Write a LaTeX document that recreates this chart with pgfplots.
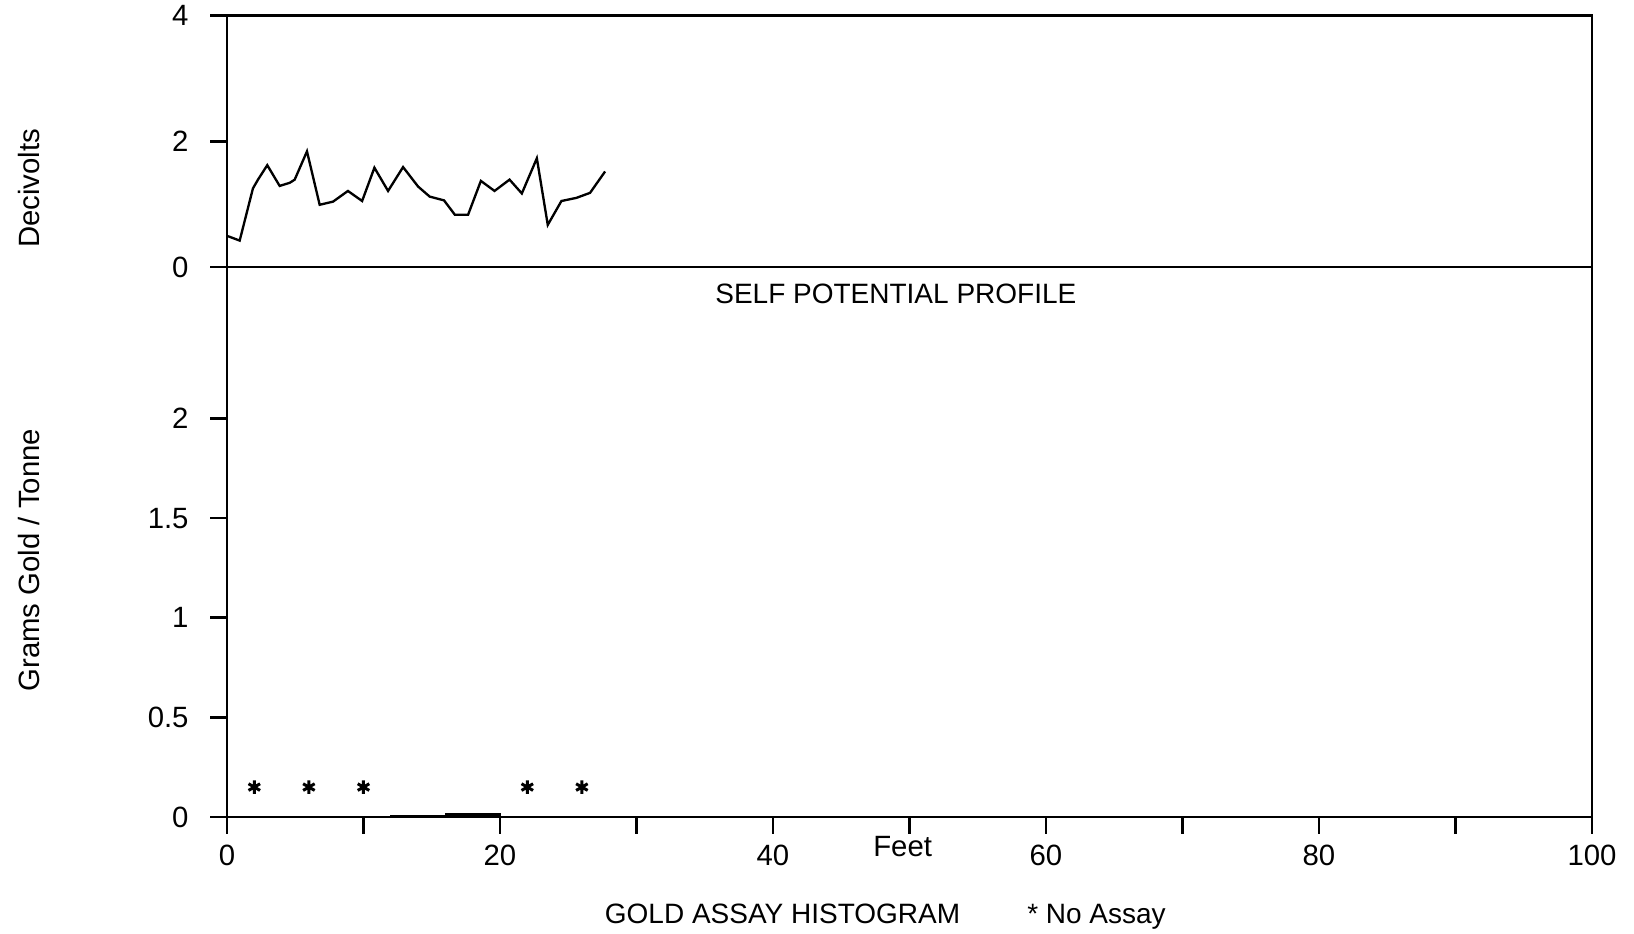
\documentclass[border=0pt]{standalone}
\usepackage{fontspec}
\setmainfont{Liberation Sans}
\usepackage{pgfplots}
\pgfplotsset{compat=1.18}
\begin{document}
\begin{tikzpicture}[font=\fontsize{8.8}{10}\selectfont]
\useasboundingbox (-68.1pt,-35.1pt) rectangle (422.1pt,245.1pt);
\pgfplotsset{
  common/.style={
    scale only axis, width=409.5pt, xmin=0, xmax=100,
    axis line style={line width=0.8pt},
    tick style={black, line width=0.8pt},
    tick align=outside,
    major tick length=5pt,
    /pgf/number format/assume math mode=true,
    ticklabel style={font=\fontsize{8.8}{10}\selectfont},
    yticklabel style={xshift=-3pt},
    xtick pos=lower, ytick pos=left,
    clip=false,
  }
}
% lower panel: gold assay histogram
\begin{axis}[common, at={(0,0)}, anchor=south west, height=165pt,
  ymin=0, ymax=2.76,
  xtick={0,10,...,100}, xticklabels={0,,20,,40,,60,,80,,100},
  ytick={0,0.5,1,1.5,2},
  ylabel={Grams Gold / Tonne},
  ylabel style={at={(axis description cs:-0.145,0.467)}, anchor=center},
]
\addplot[fill=black, draw=black, line width=0.5pt] coordinates {(12,0) (12,0.008) (16,0.008) (16,0.016) (20,0.016) (20,0)} \closedcycle;
\addplot[only marks, mark=asterisk, mark size=2pt, mark options={line width=0.9pt}] coordinates {(2,0.15) (6,0.15) (10,0.15) (22,0.15) (26,0.15)};
\node[font=\fontsize{8.4}{10}\selectfont] at (rel axis cs:0.49,1) [yshift=-8.1pt] {SELF POTENTIAL PROFILE};
\node at (axis cs:49.5,0) [yshift=-9pt] {Feet};
\node[font=\fontsize{8.4}{10}\selectfont, anchor=base] at (axis cs:40.7,0) [yshift=-32pt] {GOLD ASSAY HISTOGRAM};
\node[font=\fontsize{8.4}{10}\selectfont, anchor=base] at (axis cs:63.7,0) [yshift=-32pt] {* No Assay};
\end{axis}
% upper panel: self potential profile
\begin{axis}[common, at={(0,165pt)}, anchor=south west, height=75.4pt,
  ymin=0, ymax=4, ytick={0,2,4}, xtick=\empty,
  ylabel={Decivolts},
  ylabel style={at={(axis description cs:-0.145,0.3125)}, anchor=center},
]
\addplot[black, line width=0.7pt] coordinates {
(0.07,0.49) (0.93,0.42) (1.9,1.25) (2.27,1.39) (2.95,1.62) (3.86,1.29)
(4.6,1.34) (4.96,1.39) (5.86,1.84) (6.79,0.99) (7.77,1.04) (8.86,1.21)
(9.9,1.05) (10.8,1.58) (11.8,1.21) (12.9,1.59) (14.0,1.28) (14.85,1.12)
(15.9,1.06) (16.7,0.83) (17.66,0.83) (18.6,1.37) (19.6,1.21) (20.7,1.39)
(21.6,1.17) (22.7,1.73) (23.5,0.67) (24.5,1.05) (25.6,1.10) (26.6,1.18)
(27.7,1.52)};
\end{axis}
\end{tikzpicture}
\end{document}
